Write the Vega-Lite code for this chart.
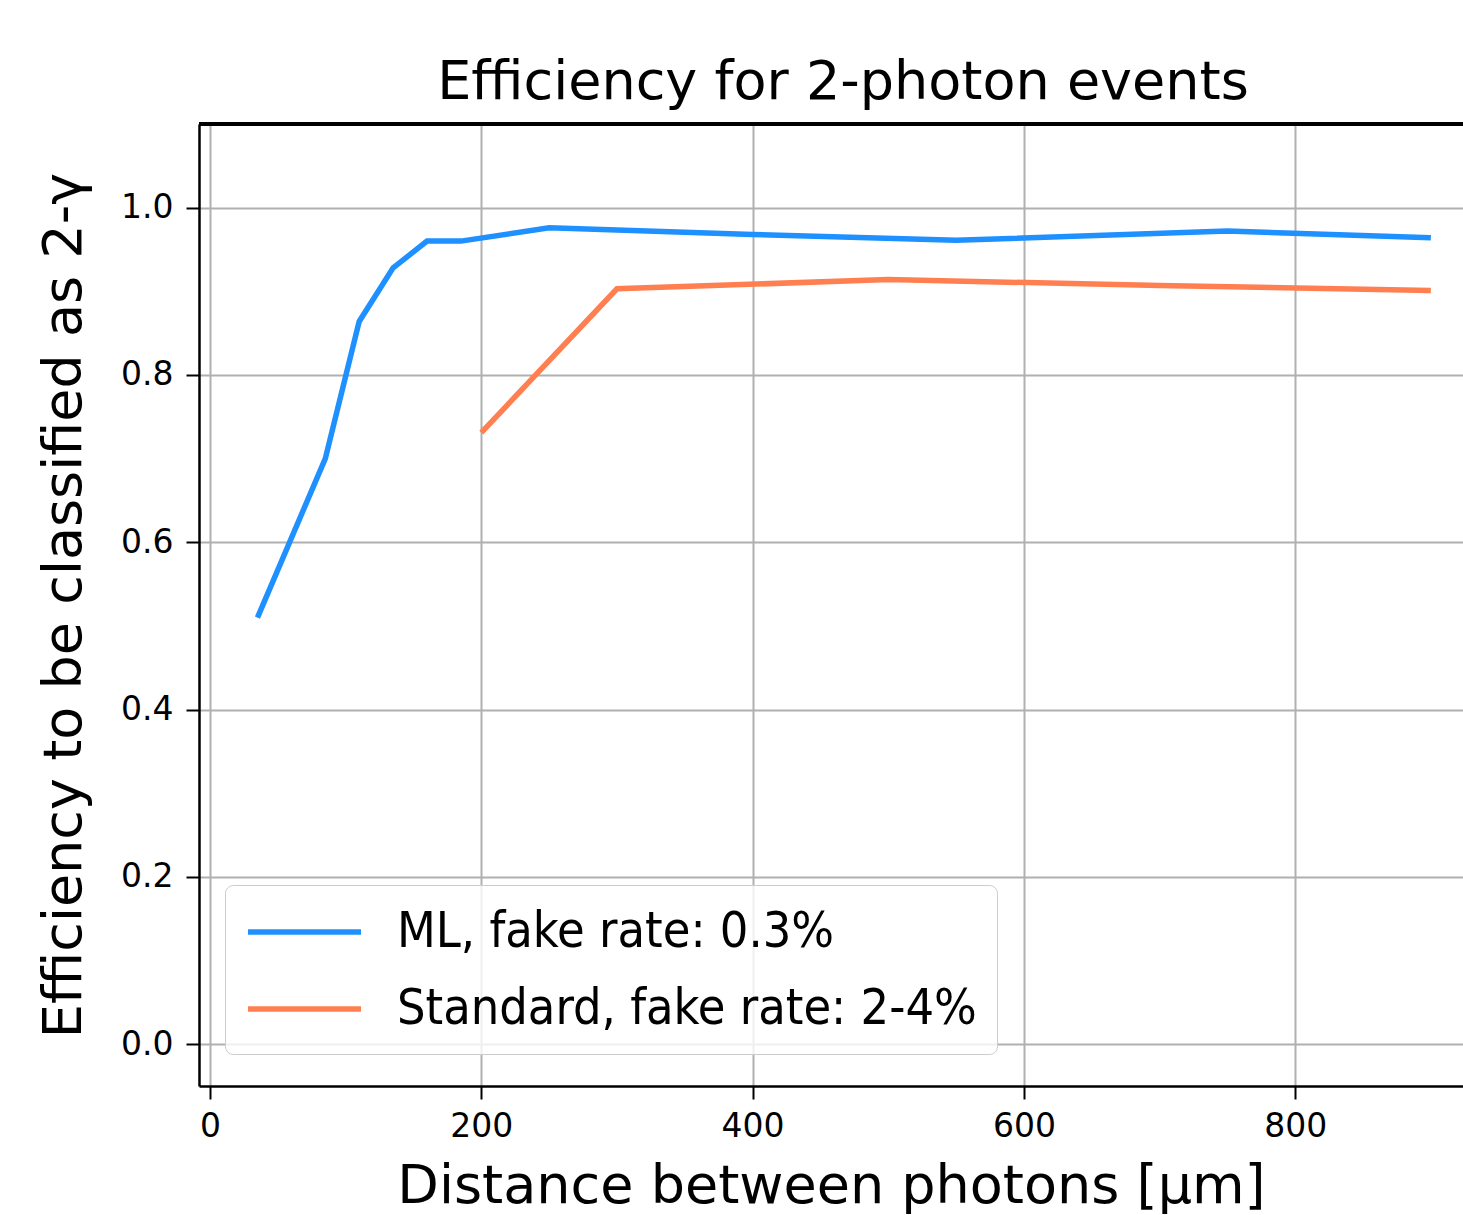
{
  "$schema": "https://vega.github.io/schema/vega-lite/v6.json",
  "width": 1264,
  "height": 962,
  "autosize": "none",
  "padding": {"left": 199, "top": 124, "right": 0, "bottom": 129},
  "background": "white",
  "config": {"font": "DejaVu Sans", "view": {"stroke": null}},
  "title": {"text": "Efficiency for 2-photon events", "fontSize": 54, "fontWeight": "normal", "font": "DejaVu Sans", "color": "black", "anchor": "middle", "dx": 12, "offset": 13},
  "data": {"values": [
    {"method": "ML, fake rate: 0.3%", "distance": 35, "efficiency": 0.510},
    {"method": "ML, fake rate: 0.3%", "distance": 85, "efficiency": 0.700},
    {"method": "ML, fake rate: 0.3%", "distance": 110, "efficiency": 0.864},
    {"method": "ML, fake rate: 0.3%", "distance": 135, "efficiency": 0.928},
    {"method": "ML, fake rate: 0.3%", "distance": 160, "efficiency": 0.960},
    {"method": "ML, fake rate: 0.3%", "distance": 185, "efficiency": 0.960},
    {"method": "ML, fake rate: 0.3%", "distance": 250, "efficiency": 0.976},
    {"method": "ML, fake rate: 0.3%", "distance": 400, "efficiency": 0.968},
    {"method": "ML, fake rate: 0.3%", "distance": 550, "efficiency": 0.961},
    {"method": "ML, fake rate: 0.3%", "distance": 750, "efficiency": 0.972},
    {"method": "ML, fake rate: 0.3%", "distance": 900, "efficiency": 0.964},
    {"method": "Standard, fake rate: 2-4%", "distance": 200, "efficiency": 0.731},
    {"method": "Standard, fake rate: 2-4%", "distance": 300, "efficiency": 0.903},
    {"method": "Standard, fake rate: 2-4%", "distance": 500, "efficiency": 0.914},
    {"method": "Standard, fake rate: 2-4%", "distance": 700, "efficiency": 0.907},
    {"method": "Standard, fake rate: 2-4%", "distance": 900, "efficiency": 0.901}
  ]},
  "layer": [
    {
      "mark": {"type": "line", "strokeWidth": 5.5, "clip": true},
      "encoding": {
        "x": {
          "field": "distance", "type": "quantitative",
          "scale": {"domain": [-8.1, 923.7], "nice": false, "zero": false},
          "axis": {"title": "Distance between photons [μm]", "values": [0, 200, 400, 600, 800], "format": "d",
            "grid": true, "gridColor": "#b0b0b0", "gridWidth": 2,
            "domainColor": "black", "domainWidth": 2.5, "tickColor": "black", "tickSize": 13, "tickWidth": 2,
            "labelFontSize": 33, "labelPadding": 11, "labelColor": "black", "labelFont": "DejaVu Sans",
            "titleFontSize": 54, "titleFontWeight": "normal", "titleColor": "black", "titleFont": "DejaVu Sans", "titlePadding": 16}
        },
        "y": {
          "field": "efficiency", "type": "quantitative",
          "scale": {"domain": [-0.05, 1.1], "nice": false, "zero": false},
          "axis": {"title": "Efficiency to be classified as 2-γ", "values": [0, 0.2, 0.4, 0.6, 0.8, 1.0], "format": ".1f",
            "grid": true, "gridColor": "#b0b0b0", "gridWidth": 2,
            "domainColor": "black", "domainWidth": 2.5, "tickColor": "black", "tickSize": 13, "tickWidth": 2,
            "labelFontSize": 33, "labelPadding": 13, "labelColor": "black", "labelFont": "DejaVu Sans",
            "titleFontSize": 54, "titleFontWeight": "normal", "titleColor": "black", "titleFont": "DejaVu Sans", "titlePadding": 29}
        },
        "color": {
          "field": "method", "type": "nominal",
          "scale": {"domain": ["ML, fake rate: 0.3%", "Standard, fake rate: 2-4%"], "range": ["#1E90FF", "#FF7F50"]},
          "legend": {"title": null, "orient": "none", "legendX": 26, "legendY": 761,
            "symbolType": "M-1,0H3.71", "symbolSize": 2304, "symbolStrokeWidth": 5.5,
            "labelFontSize": 50, "labelFont": "DejaVu Sans Condensed, DejaVu Sans", "labelColor": "black", "labelLimit": 1000,
            "labelOffset": 98, "padding": 20, "rowPadding": 25,
            "fillColor": "rgba(255,255,255,0.8)", "strokeColor": "#cccccc", "cornerRadius": 8}
        }
      }
    },
    {
      "mark": {"type": "rule", "color": "black", "strokeWidth": 2.5},
      "encoding": {"y": {"datum": 1.1}}
    }
  ]
}
